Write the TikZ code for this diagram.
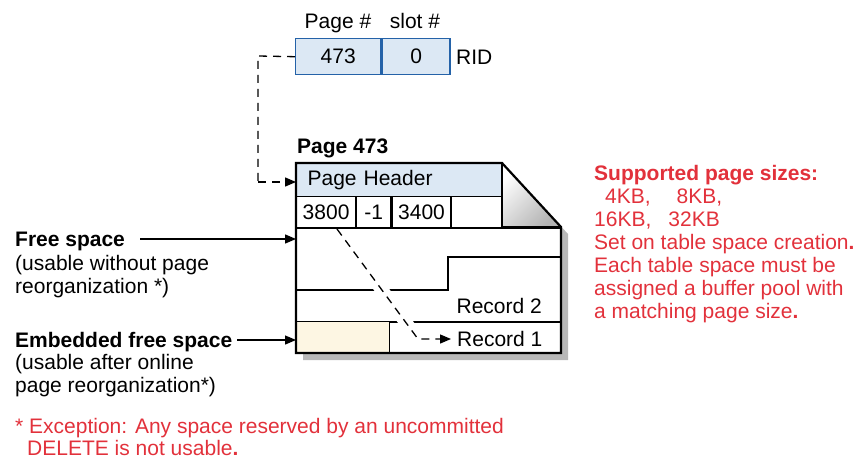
\documentclass[tikz,border=0pt]{standalone}
\usepackage{fontspec}
\setmainfont{Liberation Sans}
\usetikzlibrary{arrows.meta,calc}
\definecolor{ridfill}{HTML}{DCE8F4}
\definecolor{ridline}{HTML}{2462A8}
\definecolor{embfill}{HTML}{FDF6E3}
\definecolor{redtxt}{HTML}{E2313B}
\tikzset{
  lbl/.style={inner sep=0pt, font=\fontsize{21}{23}\selectfont},
  boldlbl/.style={lbl, font=\fontsize{21}{23}\selectfont\bfseries},
  redlbl/.style={lbl, text=redtxt, align=left},
  ridcell/.style={draw=ridline, fill=ridfill, line width=1.4pt, minimum height=36pt, inner sep=0pt, font=\fontsize{21}{23}\selectfont},
  cellbox/.style={draw=black, line width=1.2pt, minimum height=31pt, inner sep=0pt, font=\fontsize{21}{23}\selectfont},
  arr/.style={-{Triangle[length=11pt,width=9pt]}, line width=1.3pt},
  dsh/.style={line width=1.3pt, dash pattern=on 8pt off 6pt},
  inner/.style={line width=1.4pt},
}
\begin{document}
\begin{tikzpicture}[x=1pt,y=-1pt]
\useasboundingbox (0,0) rectangle (858,458);

% RID
\node[ridcell, minimum width=85pt, anchor=north west] (rp) at (295,38) {473};
\node[ridcell, minimum width=68pt, anchor=north west] (rs) at (rp.north east) {0};
\node[lbl, anchor=base] (ph) at (338,28) {Page \#};
\node[lbl, anchor=base] (sh) at (415,28) {slot \#};
\node[lbl, anchor=base west] (rid) at (456,64) {RID};

% page coordinates
\coordinate (pTL) at (296,163);
\coordinate (pFold) at (502,163);
\coordinate (pFoldB) at (502,227);
\coordinate (pR) at (561,227);
\coordinate (pBR) at (561,353);
\coordinate (pBL) at (296,353);

% shadow
\fill[black!28] ([shift={(7,7)}]pFold) -- ([shift={(7,7)}]pR) -- ([shift={(7,7)}]pBR) -- ([shift={(7,7)}]pBL) -- ([shift={(7,0)}]pBL) -- (pBR) -- (pR) -- (pFold) -- cycle;
% page fill
\fill[white] (pTL) -- (pFold) -- (pR) -- (pBR) -- (pBL) -- cycle;
% fold
\shade[left color=white, right color=black!30, shading angle=45] (pFold) -- (pR) -- (pFoldB) -- cycle;

% header
\node[cellbox, fill=ridfill, minimum width=206pt, minimum height=33pt, anchor=north west, text width=184pt, align=left] (hdr) at (pTL) {Page Header};
\node[cellbox, minimum width=59pt, anchor=north west] (c1) at (296,196) {3800};
\node[cellbox, minimum width=34pt, anchor=north west] (c2) at (c1.north east) {-1};
\node[cellbox, minimum width=59pt, anchor=north west] (c3) at (c2.north east) {3400};
\node[boldlbl, anchor=base west] (p473) at (297,153) {Page 473};

% inner lines
\coordinate (rowL) at (296,228);
\draw[inner] (rowL) -- (rowL -| pR);
\coordinate (stepL) at (296,290);
\coordinate (stepM) at (448,290);
\coordinate (stepU) at (448,257);
\draw[inner] (stepL) -- (stepM) -- (stepU) -- (stepU -| pR);
\node[cellbox, fill=embfill, minimum width=93pt, minimum height=31pt, anchor=south west] (emb) at (pBL) {};
\coordinate (r1L) at (389,322);
\draw[inner] (r1L) -- (r1L -| pR);
\node[lbl, anchor=base east] (rec2) at (542,313) {Record 2};
\node[lbl, anchor=base west] (rec1) at (457,346) {Record 1};

% dashed pointer from slot to record
\coordinate (dA) at (337,229);
\coordinate (dB) at (418,339);
\draw[white, line width=13pt] ($(dA)!0.12!(dB)$) -- (dB);
\draw[dsh, arr] (dA) -- (dB) -- ([xshift=-6pt]rec1.west |- dB);

% page outline
\draw[line width=2.2pt, line join=miter] (pTL) -- (pFold) -- (pR) -- (pBR) -- (pBL) -- cycle;
\draw[line width=2pt] (pFold) -- (pFoldB) -- (pR);

% RID connector
\coordinate (cA) at (258,56);
\coordinate (cB) at (258,182);
\draw[dsh] (rp.west) -- (cA) -- (cB);
\draw[dsh, arr] (cB) -- (hdr.west |- cB);

% left labels
\node[boldlbl, anchor=base west] (fs) at (15,246) {Free space};
\node[lbl, anchor=base west, align=left] (fsd) at (15,293) {(usable without page\\reorganization *)};
\coordinate (fsin) at (296,239);
\draw[arr] (140,239) -- (fsin);
\node[boldlbl, anchor=base west] (efs) at (15,347) {Embedded free space};
\coordinate (efsin) at (296,340);
\draw[arr] ([xshift=5pt]efs.east |- efsin) -- (efsin);
\node[lbl, anchor=base west, align=left] (efsd) at (15,392) {(usable after online\\page reorganization*)};

% red notes
\node[redlbl, anchor=base west] (note) at (594,318) {\textbf{Supported page sizes:}\\
\hspace*{11pt}4KB,\hspace*{26pt}8KB,\\
16KB,\hspace*{17pt}32KB\\
Set on table space creation\textbf{.}\\
Each table space must be\\
assigned a buffer pool with\\
a matching page size\textbf{.}};
\node[redlbl, anchor=base west, font=\fontsize{21}{22}\selectfont] (foot) at (15,455) {* Exception: Any space reserved by an uncommitted\\
\hspace*{12pt}DELETE is not usable\textbf{.}};
\end{tikzpicture}
\end{document}
